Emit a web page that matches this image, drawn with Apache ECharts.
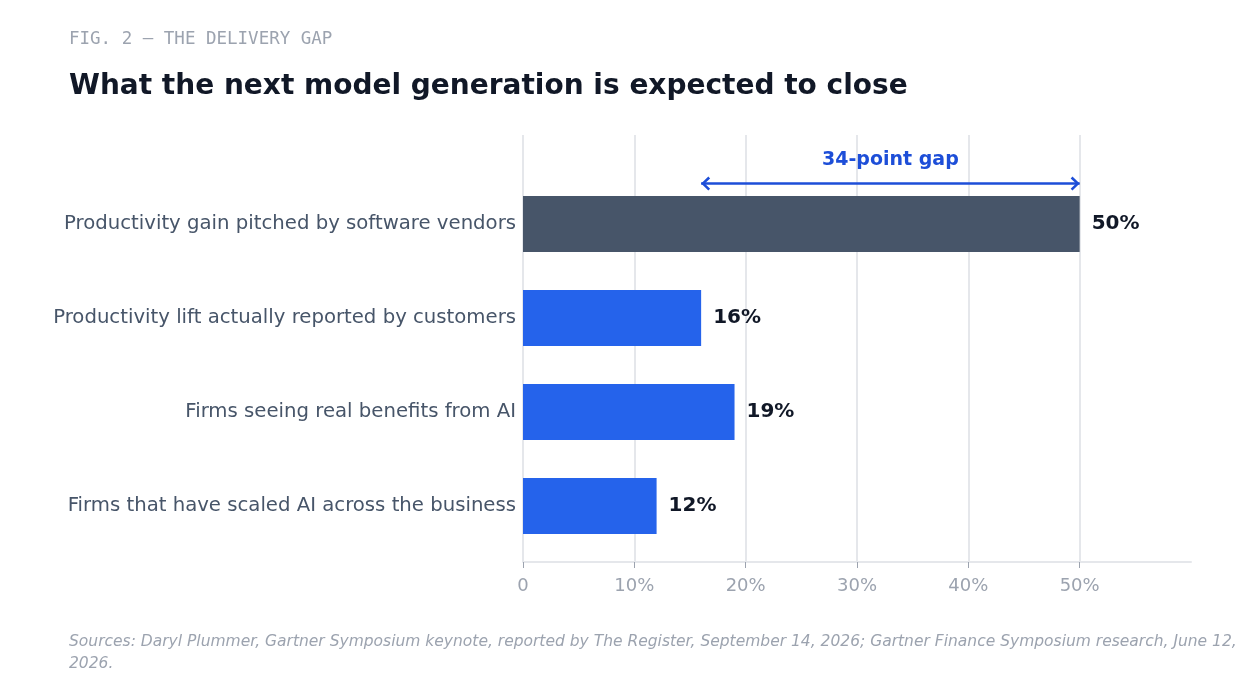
<!DOCTYPE html>
<html>
<head>
<meta charset="utf-8">
<script src="https://cdn.jsdelivr.net/npm/echarts@6/dist/echarts.min.js"></script>
<style>
html,body{margin:0;padding:0;background:#fff;}
#c{width:1260px;height:690px;}
</style>
</head>
<body>
<div id="c"></div>
<script>
const categories = [
  'Productivity gain pitched by software vendors',
  'Productivity lift actually reported by customers',
  'Firms seeing real benefits from AI',
  'Firms that have scaled AI across the business'
];
const values = [50, 16, 19, 12];
const barColors = ['#475569', '#2563eb', '#2563eb', '#2563eb'];
const tickValues = [0, 10, 20, 30, 40, 50];
const axisMax = 60;
const gapFrom = values[1];
const gapTo = values[0];
const gapLabel = (gapTo - gapFrom) + '-point gap';
const kicker = 'FIG. 2 — THE DELIVERY GAP';
const titleText = 'What the next model generation is expected to close';
const sourceText = 'Sources: Daryl Plummer, Gartner Symposium keynote, reported by The Register, September 14, 2026; Gartner Finance Symposium research, June 12, 2026.';

const chart = echarts.init(document.getElementById('c'), null, {renderer: 'canvas'});
const font = '"DejaVu Sans", sans-serif';
const rightChevron = 'path://M1.8,0 L9,7 L1.8,14 L0,12.2 L5.4,7 L0,1.8 Z';
const leftChevron = 'path://M7.2,0 L0,7 L7.2,14 L9,12.2 L3.6,7 L9,1.8 Z';
const annY = -0.43;

chart.setOption({
  animation: false,
  backgroundColor: '#ffffff',
  textStyle: {fontFamily: font},
  title: [
    {text: kicker, left: 64, top: 25, textStyle: {fontFamily: '"DejaVu Sans Mono", monospace', fontSize: 17.5, fontWeight: 'normal', color: '#9ca3af'}},
    {text: titleText, left: 64, top: 68, textStyle: {fontFamily: font, fontSize: 28, fontWeight: 'bold', color: '#111827'}}
  ],
  graphic: [
    {type: 'text', left: 69, top: 631, style: {text: sourceText, width: 1185, overflow: 'break', lineHeight: 22, font: 'italic 15.5px "DejaVu Sans", sans-serif', fill: '#9ca3af'}}
  ],
  grid: [
    {left: 523, right: 69, top: 177, bottom: 137, containLabel: false},
    {left: 523, right: 69, top: 135, bottom: 128, containLabel: false}
  ],
  xAxis: [
    {type: 'value', gridIndex: 0, min: 0, max: axisMax, show: false},
    {type: 'value', gridIndex: 1, min: 0, max: axisMax, interval: 10,
      axisLine: {show: true, onZero: false, lineStyle: {color: '#e5e7eb', width: 2}},
      axisTick: {show: true, length: 6, customValues: tickValues, lineStyle: {color: '#9ca3af', width: 1}},
      axisLabel: {customValues: tickValues, margin: 15, fontSize: 18, color: '#9ca3af', fontFamily: font,
        formatter: v => v === 0 ? '0' : v + '%'},
      splitLine: {show: true, lineStyle: {color: '#e5e7eb', width: 2}}
    }
  ],
  yAxis: [
    {type: 'category', gridIndex: 0, data: categories, inverse: true,
      axisLine: {show: false}, axisTick: {show: false},
      axisLabel: {margin: 7, fontSize: 19.7, color: '#475569', fontFamily: font}
    },
    {type: 'value', gridIndex: 1, inverse: true, min: -0.947, max: 3.596, show: false}
  ],
  series: [
    {type: 'bar', xAxisIndex: 0, yAxisIndex: 0, barWidth: 56,
      data: values.map((v, i) => ({value: v, itemStyle: {color: barColors[i]}})),
      label: {show: true, position: 'right', distance: 12, fontSize: 20, fontWeight: 'bold', color: '#111827', fontFamily: font, formatter: p => p.value + '%'}
    },
    {type: 'line', xAxisIndex: 1, yAxisIndex: 1, data: [], silent: true,
      markLine: {
        silent: true, animation: false,
        symbol: ['none', 'none'],
        lineStyle: {color: '#1d4ed8', width: 2.5, type: 'solid'},
        label: {show: true, position: 'middle', formatter: gapLabel, distance: 14, fontSize: 19, fontWeight: 'bold', color: '#1d4ed8', fontFamily: font},
        data: [[{coord: [gapFrom, annY]}, {coord: [gapTo, annY]}]]
      },
      markPoint: {
        silent: true, animation: false,
        symbolSize: [9, 14],
        itemStyle: {color: '#1d4ed8'},
        label: {show: false},
        data: [
          {coord: [gapFrom, annY], symbol: leftChevron, symbolOffset: [4.5, 0]},
          {coord: [gapTo, annY], symbol: rightChevron, symbolOffset: [-4.5, 0]}
        ]
      }
    }
  ]
});
</script>
</body>
</html>
